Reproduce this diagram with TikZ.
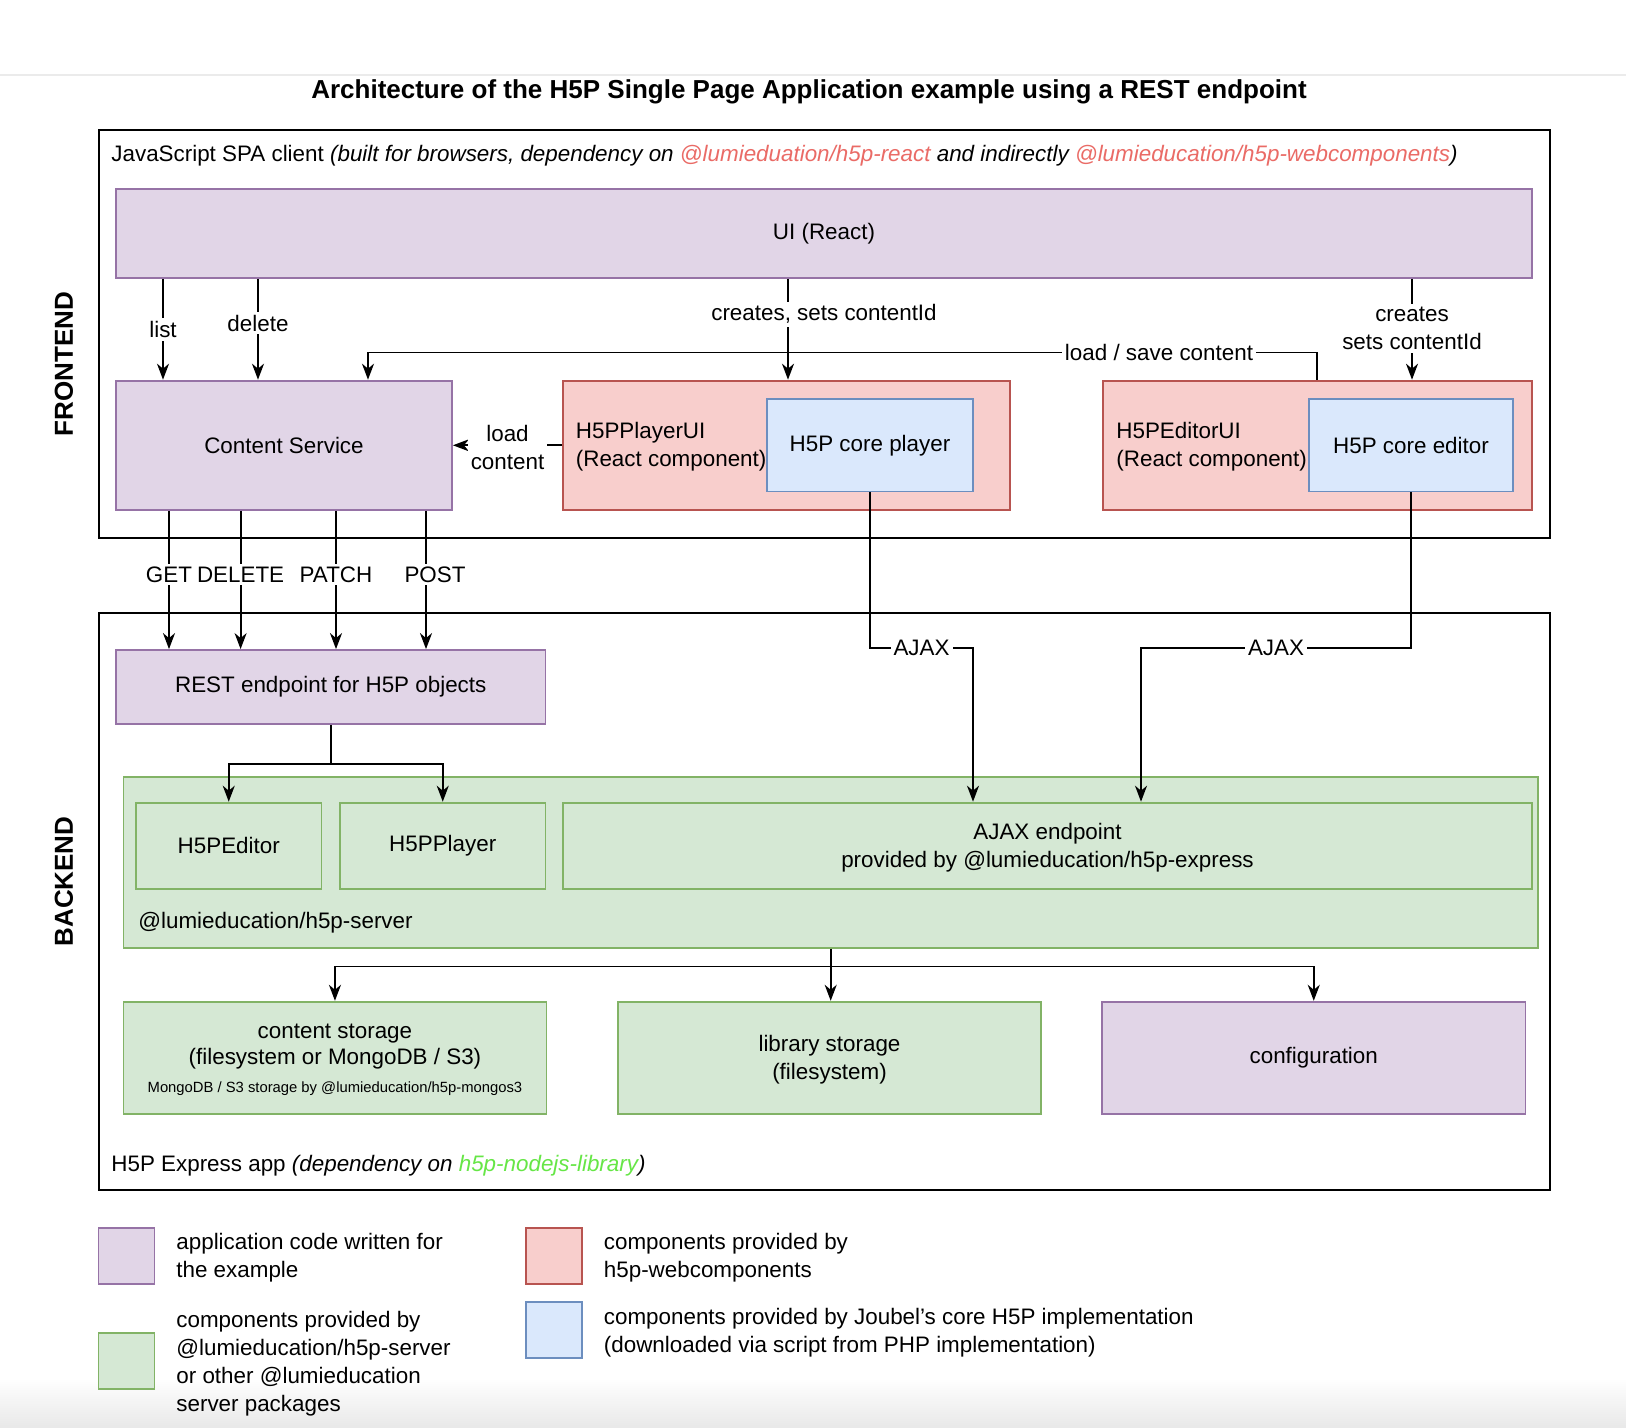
\documentclass[tikz,border=0pt]{standalone}
\usepackage{fontspec}
\setmainfont{Liberation Sans}
\usetikzlibrary{arrows.meta,fit,calc}
\definecolor{pfill}{HTML}{E1D5E7}\definecolor{pdraw}{HTML}{9673A6}
\definecolor{rfill}{HTML}{F8CECC}\definecolor{rdraw}{HTML}{B85450}
\definecolor{bfill}{HTML}{DAE8FC}\definecolor{bdraw}{HTML}{6C8EBF}
\definecolor{gfill}{HTML}{D5E8D4}\definecolor{gdraw}{HTML}{82B366}
\definecolor{redtxt}{HTML}{EA6B66}\definecolor{greentxt}{HTML}{66E646}
\begin{document}
\begin{tikzpicture}[x=0.5pt,y=-0.5pt,font=\fontsize{11.2}{14}\selectfont,
  box/.style={draw,line width=0.9pt,inner sep=0pt},
  pbox/.style={box,fill=pfill,draw=pdraw},
  rbox/.style={box,fill=rfill,draw=rdraw},
  bbox/.style={box,fill=bfill,draw=bdraw},
  gbox/.style={box,fill=gfill,draw=gdraw},
  cbox/.style={draw=black,line width=1pt,inner sep=0pt},
  txt/.style={inner sep=0pt,align=left},
  ct/.style={inner sep=0pt,align=center},
  arr/.style={line width=0.9pt,-{Stealth[length=8pt,width=6pt,inset=2.5pt]}},
  lbl/.style={fill=white,inner sep=1.5pt,align=center},
  side/.style={rotate=90,font=\bfseries\fontsize{13}{15}\selectfont}]
\useasboundingbox (0,0) rectangle (1626,1428);
\fill[white] (0,0) rectangle (1626,1428);
\shade[top color=white,bottom color=black!9] (0,1378) rectangle (1626,1428);
\draw[black!8,line width=1pt] (0,74.7) -- (1626,74.7);

% title
\node[font=\bfseries\fontsize{13}{15}\selectfont] (title) at (809,92) {Architecture of the H5P Single Page Application example using a REST endpoint};

% containers
\node[cbox,fit={(98.5,129.6)(1550,538)}] (fe) {};
\node[cbox,fit={(98.5,613)(1550,1189.5)}] (be) {};
\node[side] (fel) at (64,364) {FRONTEND};
\node[side] (bel) at (64,881.5) {BACKEND};
\node[txt,anchor=west] (feh) at (111,156) {JavaScript SPA client \textit{(built for browsers, dependency on \textcolor{redtxt}{@lumieduation/h5p-react} and indirectly \textcolor{redtxt}{@lumieducation/h5p-webcomponents})}};
\node[txt,anchor=west] (beh) at (111,1166) {H5P Express app \textit{(dependency on \textcolor{greentxt}{h5p-nodejs-library})}};

% frontend nodes
\node[pbox,fit={(116,189)(1532,278)}] (ui) {};
\node[ct] (uit) at (ui.center) {UI (React)};
\node[pbox,fit={(116,380.6)(452,510)}] (cs) {};
\node[ct] (cst0) at (cs.center) {Content Service};
\node[rbox,fit={(563,380.6)(1010,510)}] (plui) {};
\node[txt,anchor=west] (pluit) at (575.5,447) {H5PPlayerUI\\(React component)};
\node[bbox,fit={(767,399)(973,491.5)}] (cp) {};
\node[ct] (cpt) at (cp.center) {H5P core player};
\node[rbox,fit={(1103,380.6)(1532,510)}] (edui) {};
\node[txt,anchor=west] (eduit) at (1116,447) {H5PEditorUI\\(React component)};
\node[bbox,fit={(1309,399)(1513,491.5)}] (ce) {};
\node[ct] (cet) at (ce.center) {H5P core editor};

% backend nodes
\node[pbox,fit={(116,650)(545.5,724)}] (rest) {};
\node[ct] (restt) at (rest.center) {REST endpoint for H5P objects};
\node[gbox,fit={(123.4,777)(1538,948)}] (srv) {};
\node[txt,anchor=west] (srvt) at (138,923) {@lumieducation/h5p-server};
\node[gbox,fit={(136,802.6)(321.5,888.7)}] (ed) {};
\node[ct] (edt) at (ed.center) {H5PEditor};
\node[gbox,fit={(340,802.6)(545.5,888.7)}] (pl) {};
\node[ct] (plt) at (pl.center) {H5PPlayer};
\node[gbox,fit={(563,802.6)(1532,888.7)}] (aj) {};
\node[ct,yshift=-1pt] (ajt) at (aj.center) {AJAX endpoint\\provided by @lumieducation/h5p-express};
\node[gbox,fit={(123.4,1001.7)(546.5,1113.7)}] (cst) {};
\node[ct,yshift=-1pt] (cstt) at (cst.center) {content storage\\[-1pt](filesystem or MongoDB / S3)\\{\fontsize{7.4}{9}\selectfont MongoDB / S3 storage by @lumieducation/h5p-mongos3}};
\node[gbox,fit={(618,1001.7)(1041,1113.7)}] (lib) {};
\node[ct,yshift=-1pt] (libt) at (lib.center) {library storage\\(filesystem)};
\node[pbox,fit={(1102,1001.7)(1525.5,1113.7)}] (cfg) {};
\node[ct] (cfgt) at (cfg.center) {configuration};

% helper coordinates
\coordinate (xlist) at (163,0);
\coordinate (xdel) at (258,0);
\coordinate (xcr) at (788,0);
\coordinate (xce) at (1412,0);
\coordinate (xls) at (1317,0);
\coordinate (xlsc) at (368,0);
\coordinate (xlsl) at (1159,0);
\coordinate (yls) at (0,352.6);
\coordinate (xget) at (169,0);
\coordinate (xdl) at (240.6,0);
\coordinate (xpa) at (336,0);
\coordinate (xpo) at (426,0);
\coordinate (yaj) at (0,648);
\coordinate (xa1) at (973,0);
\coordinate (xa2) at (1141,0);
\coordinate (ys) at (0,764);
\coordinate (yt) at (0,966.5);

% frontend connectors
\draw[arr] (ui.south -| xlist) -- node[lbl]{list} (cs.north -| xlist);
\draw[arr] (ui.south -| xdel) -- node[lbl,pos=0.44]{delete} (cs.north -| xdel);
\draw[arr] (edui.north -| xls) -- (xls |- yls) -- (xlsc |- yls) -- (cs.north -| xlsc);
\node[lbl] (lsl) at (xlsl |- yls) {load / save content};
\draw[arr] (ui.south -| xcr) -- node[lbl,pos=0.35,xshift=18pt]{creates, sets contentId} (plui.north -| xcr);
\draw[arr] (ui.south -| xce) -- node[lbl,pos=0.49]{creates\\sets contentId} (edui.north -| xce);
\draw[arr] (plui.west) -- node[lbl,yshift=-1pt]{load\\content} (cs.east);

% REST verbs
\draw[arr] (cs.south -| xget) -- node[lbl,pos=0.46]{GET} (rest.north -| xget);
\draw[arr] (cs.south -| xdl) -- node[lbl,pos=0.46]{DELETE} (rest.north -| xdl);
\draw[arr] (cs.south -| xpa) -- node[lbl,pos=0.46]{PATCH} (rest.north -| xpa);
\draw[arr] (cs.south -| xpo) -- node[lbl,pos=0.46,xshift=4.5pt]{POST} (rest.north -| xpo);

% AJAX
\draw[arr] (cp.south) -- (cp.south |- yaj) -- node[lbl]{AJAX} (xa1 |- yaj) -- (aj.north -| xa1);
\draw[arr] (ce.south) -- (ce.south |- yaj) -- node[lbl]{AJAX} (xa2 |- yaj) -- (aj.north -| xa2);

% REST to server classes
\draw[arr] (rest.south) -- (rest.south |- ys) -| (ed.north);
\draw[arr] (rest.south |- ys) -| (pl.north);

% server to storages
\draw[arr] (srv.south) -- (srv.south |- yt) -| (cst.north);
\draw[arr] (srv.south |- yt) -| (cfg.north);
\draw[arr] (srv.south) -- (srv.south |- lib.north);

% legend
\node[pbox,fit={(98.5,1228)(154.5,1284)}] (lp) {};
\node[txt,anchor=west] (lpt) at (176,1258) {application code written for\\the example};
\node[gbox,fit={(98.5,1332.6)(154.5,1388.6)}] (lg) {};
\node[txt,anchor=west] (lgt) at (176,1364) {components provided by\\@lumieducation/h5p-server\\or other @lumieducation\\server packages};
\node[rbox,fit={(526,1228)(582,1284)}] (lr) {};
\node[txt,anchor=west] (lrt) at (603.5,1258) {components provided by\\h5p-webcomponents};
\node[bbox,fit={(526,1302)(582,1358)}] (lb) {};
\node[txt,anchor=west] (lbt) at (603.5,1333) {components provided by Joubel's core H5P implementation\\(downloaded via script from PHP implementation)};
\end{tikzpicture}
\end{document}
